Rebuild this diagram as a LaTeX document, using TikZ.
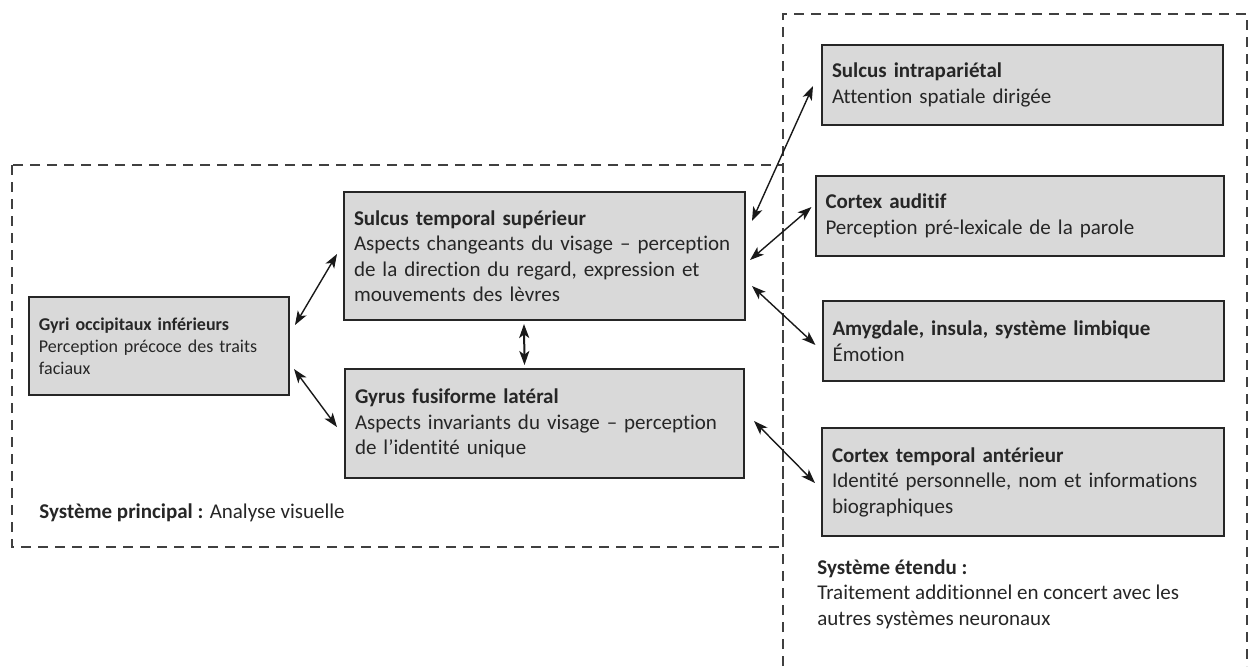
\documentclass[tikz,border=0pt]{standalone}
\usepackage{fontspec}
\setmainfont{Carlito}[Ligatures=NoCommon]
\usetikzlibrary{positioning,arrows.meta}

\tikzset{
  aire/.style={draw=black!85, line width=1pt, fill=black!15, text=black!85, align=left,
    anchor=north west, inner xsep=5pt, inner ysep=0pt, font=\fontsize{10.5}{12.75}\selectfont},
  legende/.style={inner sep=0pt, align=left, text=black!85, font=\fontsize{10.5}{12.75}\selectfont},
  systeme/.style={draw=black!75, line width=1pt, dash pattern=on 5pt off 3.5pt},
  fleche/.style={<->, >={Stealth[length=7pt, width=5pt, inset=1.8pt]}, line width=0.7pt, black!90},
}

\begin{document}
\begin{tikzpicture}[x=0.5pt, y=-0.5pt]
    \useasboundingbox (0,0) rectangle (1249,666);

    % cadres des deux systemes
    \draw[systeme] (12,165) rectangle (783,547);
    \draw[systeme] (783,666) -- (783,14) -- (1247,14) -- (1247,666);

    % systeme principal
    \node [aire, text width=120pt, minimum height=49pt, font=\fontsize{9}{11}\selectfont] (gyri) at (28,296) {\textbf{Gyri occipitaux inférieurs}\\Perception précoce des traits\\faciaux};

    \node [aire, text width=190.5pt, minimum height=64pt] (sts) at (343,191) {\textbf{Sulcus temporal supérieur}\\Aspects changeants du visage -- perception\\de la direction du regard, expression et\\mouvements des lèvres};

    \node [aire, text width=189.5pt, minimum height=54.5pt] (gfl) at (344,368) {\textbf{Gyrus fusiforme latéral}\\Aspects invariants du visage -- perception\\de l'identité unique};

    \node [legende, anchor=base west] (principal) at (39,518) {\textbf{Système principal\ :} Analyse visuelle};

    % systeme etendu
    \node [aire, text width=190.5pt, minimum height=40pt] (sip) at (821,44) {\textbf{Sulcus intrapariétal}\\Attention spatiale dirigée};

    \node [aire, text width=194pt, minimum height=40pt, below=24.5pt of sip, xshift=-1.5pt] (aud) {\textbf{Cortex auditif}\\Perception pré-lexicale de la parole};

    \node [aire, text width=190.5pt, minimum height=40pt, below=21.5pt of aud, xshift=1.75pt] (amy) {\textbf{Amygdale, insula, système limbique}\\Émotion};

    \node [aire, text width=191pt, minimum height=54pt, below=22.5pt of amy] (cta) {\textbf{Cortex temporal antérieur}\\Identité personnelle, nom et informations\\biographiques};

    \node [legende, anchor=north west] (etendu) at (817,559) {\textbf{Système étendu :}\\Traitement additionnel en concert avec les\\autres systèmes neuronaux};

    % connexions
    \draw [fleche] ([shift={(5,-21)}]gyri.east) -- ([shift={(-6,-2)}]sts.west);
    \draw [fleche] ([shift={(4,23)}]gyri.east) -- ([shift={(-7,3.5)}]gfl.west);
    \draw [fleche, line width=1pt] ([shift={(-20.5,3)}]sts.south) -- ([shift={(-20,-3)}]gfl.north);
    \draw [fleche] ([shift={(6,-35)}]sts.east) -- ([shift={(-8,1)}]sip.west);
    \draw [fleche] ([shift={(4,4)}]sts.east) -- ([shift={(-3,-9)}]aud.west);
    \draw [fleche] ([shift={(6,30)}]sts.east) -- ([shift={(-6,4)}]amy.west);
    \draw [fleche] ([shift={(9,-2.5)}]gfl.east) -- ([shift={(-6,1)}]cta.west);

\end{tikzpicture}
\end{document}
